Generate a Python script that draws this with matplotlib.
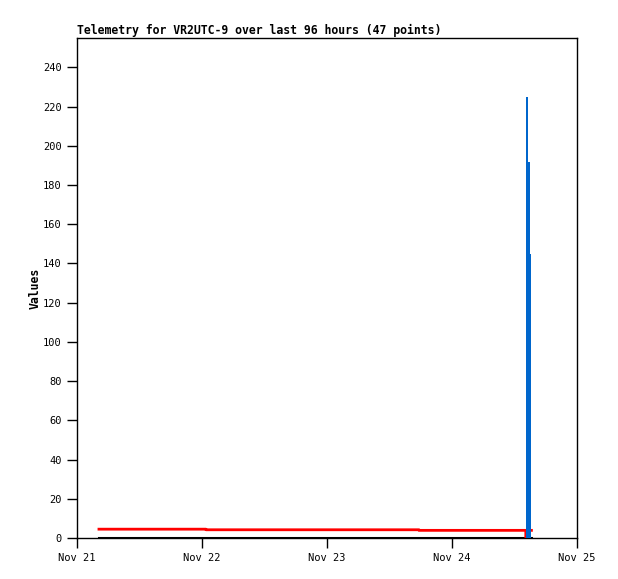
import matplotlib
matplotlib.use("Agg")
import matplotlib.pyplot as plt
import matplotlib.dates as mdates
import pandas as pd

# Red series (step line)
red_times = pd.to_datetime(["2024-11-21 04:13", "2024-11-22 00:46", "2024-11-22 00:46",
                            "2024-11-23 17:40", "2024-11-23 17:40", "2024-11-24 14:10",
                            "2024-11-24 14:10", "2024-11-24 14:55", "2024-11-24 15:15"])
red_values = [4.5, 4.5, 4.2, 4.2, 3.9, 3.9, 0.0, 3.9, 3.9]

# Black series
black_times = pd.to_datetime(["2024-11-21 04:13", "2024-11-24 15:15"])
black_values = [0.0, 0.0]

# Blue series (spikes)
blue_times = pd.to_datetime(["2024-11-24 14:10", "2024-11-24 14:35", "2024-11-24 14:58", "2024-11-24 15:14"])
blue_values = [225, 192, 145, 145]

x_ticks = pd.to_datetime(["2024-11-21", "2024-11-22", "2024-11-23", "2024-11-24", "2024-11-25"])
x_labels = ["Nov 21", "Nov 22", "Nov 23", "Nov 24", "Nov 25"]
y_ticks = list(range(0, 241, 20))

fig = plt.figure(figsize=(6.18, 5.79), dpi=100)
ax = fig.add_axes([77/618, 1-538/579, 500/618, 500/579])

font = "DejaVu Sans Mono"
ax.plot(black_times, black_values, color="black", lw=2.2, zorder=2)
ax.plot(red_times, red_values, color="#ff0000", lw=2, zorder=3)
ax.fill_between(blue_times, 0, blue_values, step="post", color="#0066cc", lw=0, zorder=4)

ax.set_xlim(x_ticks[0], x_ticks[-1])
ax.set_ylim(0, 255)
ax.set_xticks(x_ticks)
ax.set_xticklabels(x_labels, fontfamily=font, fontsize=7.5)
ax.set_yticks(y_ticks)
ax.set_yticklabels([str(v) for v in y_ticks], fontfamily=font, fontsize=7.5)
ax.tick_params(direction="out", length=7, width=1, pad=4)

ax.set_title("Telemetry for VR2UTC-9 over last 96 hours (47 points)", loc="left",
             fontfamily=font, fontsize=8.3, fontweight="bold", pad=3)
ax.set_ylabel("Values", fontfamily=font, fontsize=8.3, fontweight="bold", labelpad=1)

for s in ax.spines.values():
    s.set_linewidth(1)
    s.set_color("black")

fig.savefig("out.png", dpi=100)
